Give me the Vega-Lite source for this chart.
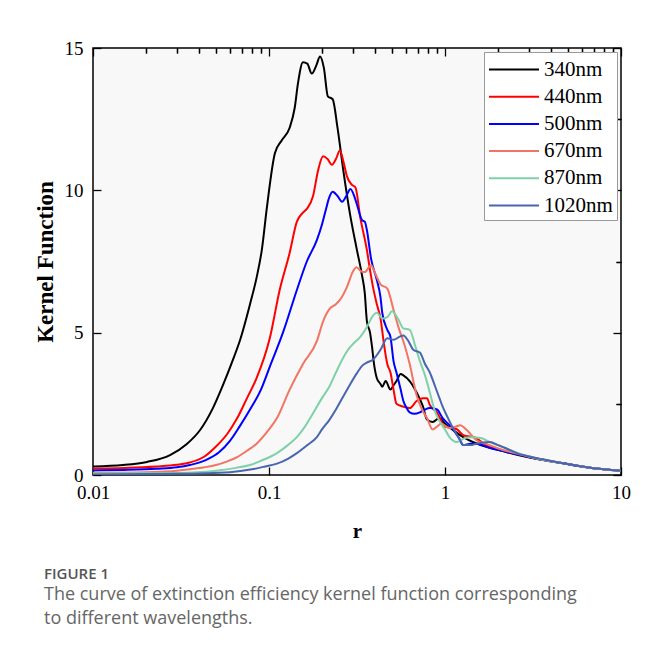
{
"$schema":"https://vega.github.io/schema/vega-lite/v6.json",
"width":528,"height":427,
"autosize":{"type":"none"},
"padding":{"left":93,"top":48,"right":33,"bottom":176},
"background":"white",
"config":{
 "view":{"fill":"#f8f8f8","stroke":"black","strokeWidth":1.5},
 "font":"Liberation Serif",
 "axis":{"grid":false,"domain":false,"tickColor":"black","tickWidth":1.3,"labelFont":"Liberation Serif","labelFontSize":19,"labelColor":"black","titleFont":"Liberation Serif","titleFontSize":19,"titleFontWeight":"bold","titleColor":"black","labelFlush":false,"labelOverlap":false,"labelBound":false}
},
"title":{"text":"FIGURE 1","subtitle":["The curve of extinction efficiency kernel function corresponding","to different wavelengths."],"orient":"bottom","anchor":"start","frame":"bounds","offset":26,"font":"Open Sans","fontSize":15,"fontWeight":600,"color":"#555555","subtitleFont":"Open Sans","subtitleFontSize":18,"subtitleColor":"#666666","subtitleLineHeight":24,"subtitlePadding":4,"dx":10},
"datasets":{"k":[
{"wl":"340nm","r":0.01,"k":0.30},{"wl":"340nm","r":0.0148,"k":0.35},{"wl":"340nm","r":0.0203,"k":0.46},{"wl":"340nm","r":0.0274,"k":0.70},{"wl":"340nm","r":0.034,"k":1.08},{"wl":"340nm","r":0.0406,"k":1.58},{"wl":"340nm","r":0.048,"k":2.35},{"wl":"340nm","r":0.0551,"k":3.2},{"wl":"340nm","r":0.0615,"k":3.95},{"wl":"340nm","r":0.0685,"k":4.74},{"wl":"340nm","r":0.078,"k":6.0},{"wl":"340nm","r":0.0852,"k":6.96},{"wl":"340nm","r":0.091,"k":7.9},{"wl":"340nm","r":0.0973,"k":9.4},{"wl":"340nm","r":0.108,"k":11.3},{"wl":"340nm","r":0.118,"k":11.75},{"wl":"340nm","r":0.131,"k":12.2},{"wl":"340nm","r":0.14,"k":12.9},{"wl":"340nm","r":0.146,"k":13.75},{"wl":"340nm","r":0.156,"k":14.5},{"wl":"340nm","r":0.165,"k":14.45},{"wl":"340nm","r":0.175,"k":14.1},{"wl":"340nm","r":0.186,"k":14.4},{"wl":"340nm","r":0.195,"k":14.7},{"wl":"340nm","r":0.205,"k":14.3},{"wl":"340nm","r":0.216,"k":13.3},{"wl":"340nm","r":0.23,"k":13.2},{"wl":"340nm","r":0.245,"k":12.2},{"wl":"340nm","r":0.263,"k":10.8},{"wl":"340nm","r":0.288,"k":9.2},{"wl":"340nm","r":0.316,"k":7.9},{"wl":"340nm","r":0.338,"k":7.0},{"wl":"340nm","r":0.35,"k":6.4},{"wl":"340nm","r":0.36,"k":5.4},{"wl":"340nm","r":0.375,"k":5.0},{"wl":"340nm","r":0.385,"k":4.5},{"wl":"340nm","r":0.395,"k":3.9},{"wl":"340nm","r":0.41,"k":3.4},{"wl":"340nm","r":0.43,"k":3.2},{"wl":"340nm","r":0.44,"k":3.1},{"wl":"340nm","r":0.46,"k":3.3},{"wl":"340nm","r":0.49,"k":3.0},{"wl":"340nm","r":0.51,"k":3.15},{"wl":"340nm","r":0.53,"k":3.3},{"wl":"340nm","r":0.56,"k":3.55},{"wl":"340nm","r":0.58,"k":3.5},{"wl":"340nm","r":0.63,"k":3.3},{"wl":"340nm","r":0.69,"k":2.9},{"wl":"340nm","r":0.75,"k":2.4},{"wl":"340nm","r":0.79,"k":1.95},{"wl":"340nm","r":0.85,"k":1.86},{"wl":"340nm","r":0.93,"k":2.0},{"wl":"340nm","r":1.0,"k":1.8},{"wl":"340nm","r":1.1,"k":1.6},{"wl":"340nm","r":1.27,"k":1.33},{"wl":"340nm","r":1.45,"k":1.15},{"wl":"340nm","r":1.7,"k":1.0},{"wl":"340nm","r":2.1,"k":0.85},{"wl":"340nm","r":2.6,"k":0.7},{"wl":"340nm","r":3.4,"k":0.55},{"wl":"340nm","r":4.6,"k":0.42},{"wl":"340nm","r":6.0,"k":0.3},{"wl":"340nm","r":8.0,"k":0.2},{"wl":"340nm","r":10,"k":0.15},
{"wl":"440nm","r":0.01,"k":0.23},{"wl":"440nm","r":0.015,"k":0.25},{"wl":"440nm","r":0.023,"k":0.30},{"wl":"440nm","r":0.03,"k":0.36},{"wl":"440nm","r":0.0355,"k":0.44},{"wl":"440nm","r":0.043,"k":0.65},{"wl":"440nm","r":0.05,"k":1.0},{"wl":"440nm","r":0.058,"k":1.45},{"wl":"440nm","r":0.066,"k":2.0},{"wl":"440nm","r":0.075,"k":2.7},{"wl":"440nm","r":0.085,"k":3.4},{"wl":"440nm","r":0.101,"k":4.8},{"wl":"440nm","r":0.115,"k":6.5},{"wl":"440nm","r":0.131,"k":7.8},{"wl":"440nm","r":0.144,"k":8.9},{"wl":"440nm","r":0.155,"k":9.2},{"wl":"440nm","r":0.164,"k":9.35},{"wl":"440nm","r":0.178,"k":9.8},{"wl":"440nm","r":0.19,"k":10.7},{"wl":"440nm","r":0.203,"k":11.2},{"wl":"440nm","r":0.215,"k":11.1},{"wl":"440nm","r":0.228,"k":10.9},{"wl":"440nm","r":0.24,"k":11.1},{"wl":"440nm","r":0.253,"k":11.4},{"wl":"440nm","r":0.265,"k":11.0},{"wl":"440nm","r":0.277,"k":10.5},{"wl":"440nm","r":0.295,"k":10.2},{"wl":"440nm","r":0.31,"k":10.1},{"wl":"440nm","r":0.33,"k":9.05},{"wl":"440nm","r":0.36,"k":7.9},{"wl":"440nm","r":0.375,"k":7.2},{"wl":"440nm","r":0.39,"k":6.6},{"wl":"440nm","r":0.41,"k":6.0},{"wl":"440nm","r":0.43,"k":5.5},{"wl":"440nm","r":0.45,"k":4.6},{"wl":"440nm","r":0.47,"k":3.9},{"wl":"440nm","r":0.49,"k":3.6},{"wl":"440nm","r":0.51,"k":3.0},{"wl":"440nm","r":0.53,"k":2.5},{"wl":"440nm","r":0.58,"k":2.4},{"wl":"440nm","r":0.63,"k":2.35},{"wl":"440nm","r":0.69,"k":2.6},{"wl":"440nm","r":0.75,"k":2.7},{"wl":"440nm","r":0.79,"k":2.7},{"wl":"440nm","r":0.82,"k":2.46},{"wl":"440nm","r":0.9,"k":2.2},{"wl":"440nm","r":1.0,"k":1.7},{"wl":"440nm","r":1.1,"k":1.65},{"wl":"440nm","r":1.17,"k":1.6},{"wl":"440nm","r":1.27,"k":1.4},{"wl":"440nm","r":1.5,"k":1.3},{"wl":"440nm","r":1.7,"k":1.05},{"wl":"440nm","r":2.1,"k":0.88},{"wl":"440nm","r":2.6,"k":0.72},{"wl":"440nm","r":3.4,"k":0.56},{"wl":"440nm","r":4.6,"k":0.42},{"wl":"440nm","r":6.0,"k":0.3},{"wl":"440nm","r":8.0,"k":0.2},{"wl":"440nm","r":10,"k":0.15},
{"wl":"500nm","r":0.01,"k":0.16},{"wl":"500nm","r":0.015,"k":0.18},{"wl":"500nm","r":0.023,"k":0.22},{"wl":"500nm","r":0.03,"k":0.27},{"wl":"500nm","r":0.0355,"k":0.35},{"wl":"500nm","r":0.044,"k":0.53},{"wl":"500nm","r":0.052,"k":0.8},{"wl":"500nm","r":0.06,"k":1.2},{"wl":"500nm","r":0.068,"k":1.7},{"wl":"500nm","r":0.078,"k":2.3},{"wl":"500nm","r":0.09,"k":3.0},{"wl":"500nm","r":0.101,"k":3.8},{"wl":"500nm","r":0.12,"k":5.0},{"wl":"500nm","r":0.144,"k":6.5},{"wl":"500nm","r":0.164,"k":7.5},{"wl":"500nm","r":0.187,"k":8.25},{"wl":"500nm","r":0.2,"k":8.8},{"wl":"500nm","r":0.21,"k":9.3},{"wl":"500nm","r":0.22,"k":9.75},{"wl":"500nm","r":0.23,"k":9.95},{"wl":"500nm","r":0.245,"k":9.8},{"wl":"500nm","r":0.26,"k":9.6},{"wl":"500nm","r":0.275,"k":9.8},{"wl":"500nm","r":0.29,"k":10.05},{"wl":"500nm","r":0.305,"k":9.8},{"wl":"500nm","r":0.316,"k":9.5},{"wl":"500nm","r":0.338,"k":8.95},{"wl":"500nm","r":0.35,"k":8.9},{"wl":"500nm","r":0.36,"k":8.6},{"wl":"500nm","r":0.38,"k":7.6},{"wl":"500nm","r":0.41,"k":6.85},{"wl":"500nm","r":0.43,"k":6.25},{"wl":"500nm","r":0.44,"k":5.7},{"wl":"500nm","r":0.47,"k":5.1},{"wl":"500nm","r":0.49,"k":4.85},{"wl":"500nm","r":0.51,"k":4.0},{"wl":"500nm","r":0.53,"k":3.6},{"wl":"500nm","r":0.56,"k":3.0},{"wl":"500nm","r":0.58,"k":2.6},{"wl":"500nm","r":0.6,"k":2.4},{"wl":"500nm","r":0.63,"k":2.2},{"wl":"500nm","r":0.67,"k":2.15},{"wl":"500nm","r":0.72,"k":2.2},{"wl":"500nm","r":0.77,"k":2.3},{"wl":"500nm","r":0.82,"k":2.35},{"wl":"500nm","r":0.9,"k":2.3},{"wl":"500nm","r":0.97,"k":2.0},{"wl":"500nm","r":1.04,"k":1.8},{"wl":"500nm","r":1.11,"k":1.6},{"wl":"500nm","r":1.2,"k":1.3},{"wl":"500nm","r":1.27,"k":1.05},{"wl":"500nm","r":1.4,"k":1.1},{"wl":"500nm","r":1.5,"k":1.1},{"wl":"500nm","r":1.8,"k":0.95},{"wl":"500nm","r":2.1,"k":0.85},{"wl":"500nm","r":2.6,"k":0.72},{"wl":"500nm","r":3.4,"k":0.56},{"wl":"500nm","r":4.6,"k":0.42},{"wl":"500nm","r":6.0,"k":0.3},{"wl":"500nm","r":8.0,"k":0.2},{"wl":"500nm","r":10,"k":0.15},
{"wl":"670nm","r":0.01,"k":0.08},{"wl":"670nm","r":0.02,"k":0.1},{"wl":"670nm","r":0.03,"k":0.15},{"wl":"670nm","r":0.0355,"k":0.2},{"wl":"670nm","r":0.043,"k":0.27},{"wl":"670nm","r":0.05,"k":0.35},{"wl":"670nm","r":0.058,"k":0.48},{"wl":"670nm","r":0.066,"k":0.63},{"wl":"670nm","r":0.075,"k":0.85},{"wl":"670nm","r":0.085,"k":1.1},{"wl":"670nm","r":0.097,"k":1.5},{"wl":"670nm","r":0.111,"k":2.0},{"wl":"670nm","r":0.131,"k":3.0},{"wl":"670nm","r":0.156,"k":3.9},{"wl":"670nm","r":0.187,"k":4.7},{"wl":"670nm","r":0.203,"k":5.4},{"wl":"670nm","r":0.222,"k":5.85},{"wl":"670nm","r":0.24,"k":6.0},{"wl":"670nm","r":0.253,"k":6.15},{"wl":"670nm","r":0.277,"k":6.6},{"wl":"670nm","r":0.3,"k":7.15},{"wl":"670nm","r":0.314,"k":7.3},{"wl":"670nm","r":0.335,"k":7.15},{"wl":"670nm","r":0.35,"k":7.13},{"wl":"670nm","r":0.38,"k":7.37},{"wl":"670nm","r":0.4,"k":7.1},{"wl":"670nm","r":0.43,"k":6.7},{"wl":"670nm","r":0.47,"k":6.55},{"wl":"670nm","r":0.51,"k":5.8},{"wl":"670nm","r":0.55,"k":5.1},{"wl":"670nm","r":0.58,"k":4.7},{"wl":"670nm","r":0.63,"k":3.9},{"wl":"670nm","r":0.69,"k":2.8},{"wl":"670nm","r":0.74,"k":2.3},{"wl":"670nm","r":0.79,"k":2.0},{"wl":"670nm","r":0.85,"k":1.6},{"wl":"670nm","r":0.9,"k":1.7},{"wl":"670nm","r":0.95,"k":1.8},{"wl":"670nm","r":1.06,"k":1.65},{"wl":"670nm","r":1.15,"k":1.7},{"wl":"670nm","r":1.22,"k":1.75},{"wl":"670nm","r":1.33,"k":1.58},{"wl":"670nm","r":1.5,"k":1.23},{"wl":"670nm","r":1.7,"k":1.1},{"wl":"670nm","r":1.97,"k":0.95},{"wl":"670nm","r":2.3,"k":0.82},{"wl":"670nm","r":2.8,"k":0.7},{"wl":"670nm","r":3.4,"k":0.57},{"wl":"670nm","r":4.6,"k":0.42},{"wl":"670nm","r":6.0,"k":0.3},{"wl":"670nm","r":8.0,"k":0.2},{"wl":"670nm","r":10,"k":0.15},
{"wl":"870nm","r":0.01,"k":0.05},{"wl":"870nm","r":0.03,"k":0.07},{"wl":"870nm","r":0.05,"k":0.15},{"wl":"870nm","r":0.065,"k":0.25},{"wl":"870nm","r":0.078,"k":0.35},{"wl":"870nm","r":0.09,"k":0.5},{"wl":"870nm","r":0.111,"k":0.77},{"wl":"870nm","r":0.128,"k":1.05},{"wl":"870nm","r":0.144,"k":1.33},{"wl":"870nm","r":0.16,"k":1.7},{"wl":"870nm","r":0.178,"k":2.17},{"wl":"870nm","r":0.2,"k":2.7},{"wl":"870nm","r":0.22,"k":3.1},{"wl":"870nm","r":0.24,"k":3.6},{"wl":"870nm","r":0.263,"k":4.1},{"wl":"870nm","r":0.285,"k":4.45},{"wl":"870nm","r":0.3,"k":4.6},{"wl":"870nm","r":0.33,"k":4.85},{"wl":"870nm","r":0.36,"k":5.2},{"wl":"870nm","r":0.39,"k":5.6},{"wl":"870nm","r":0.41,"k":5.7},{"wl":"870nm","r":0.44,"k":5.5},{"wl":"870nm","r":0.47,"k":5.55},{"wl":"870nm","r":0.5,"k":5.75},{"wl":"870nm","r":0.54,"k":5.5},{"wl":"870nm","r":0.58,"k":5.15},{"wl":"870nm","r":0.63,"k":5.1},{"wl":"870nm","r":0.68,"k":4.5},{"wl":"870nm","r":0.72,"k":4.0},{"wl":"870nm","r":0.77,"k":3.5},{"wl":"870nm","r":0.82,"k":2.9},{"wl":"870nm","r":0.87,"k":2.3},{"wl":"870nm","r":0.93,"k":1.9},{"wl":"870nm","r":1.0,"k":1.6},{"wl":"870nm","r":1.06,"k":1.33},{"wl":"870nm","r":1.17,"k":1.16},{"wl":"870nm","r":1.3,"k":1.3},{"wl":"870nm","r":1.4,"k":1.33},{"wl":"870nm","r":1.6,"k":1.3},{"wl":"870nm","r":1.8,"k":1.15},{"wl":"870nm","r":2.0,"k":1.05},{"wl":"870nm","r":2.4,"k":0.85},{"wl":"870nm","r":2.8,"k":0.7},{"wl":"870nm","r":3.4,"k":0.57},{"wl":"870nm","r":4.6,"k":0.42},{"wl":"870nm","r":6.0,"k":0.3},{"wl":"870nm","r":8.0,"k":0.2},{"wl":"870nm","r":10,"k":0.15},
{"wl":"1020nm","r":0.01,"k":0.02},{"wl":"1020nm","r":0.03,"k":0.04},{"wl":"1020nm","r":0.06,"k":0.1},{"wl":"1020nm","r":0.08,"k":0.2},{"wl":"1020nm","r":0.095,"k":0.3},{"wl":"1020nm","r":0.111,"k":0.4},{"wl":"1020nm","r":0.128,"k":0.57},{"wl":"1020nm","r":0.144,"k":0.77},{"wl":"1020nm","r":0.165,"k":1.05},{"wl":"1020nm","r":0.187,"k":1.33},{"wl":"1020nm","r":0.2,"k":1.6},{"wl":"1020nm","r":0.22,"k":1.93},{"wl":"1020nm","r":0.24,"k":2.3},{"wl":"1020nm","r":0.263,"k":2.74},{"wl":"1020nm","r":0.29,"k":3.2},{"wl":"1020nm","r":0.316,"k":3.58},{"wl":"1020nm","r":0.34,"k":3.85},{"wl":"1020nm","r":0.36,"k":3.95},{"wl":"1020nm","r":0.39,"k":4.05},{"wl":"1020nm","r":0.43,"k":4.4},{"wl":"1020nm","r":0.47,"k":4.8},{"wl":"1020nm","r":0.51,"k":4.75},{"wl":"1020nm","r":0.55,"k":4.85},{"wl":"1020nm","r":0.58,"k":4.9},{"wl":"1020nm","r":0.62,"k":4.7},{"wl":"1020nm","r":0.66,"k":4.4},{"wl":"1020nm","r":0.72,"k":4.3},{"wl":"1020nm","r":0.77,"k":3.9},{"wl":"1020nm","r":0.82,"k":3.6},{"wl":"1020nm","r":0.88,"k":3.1},{"wl":"1020nm","r":0.93,"k":2.7},{"wl":"1020nm","r":0.97,"k":2.4},{"wl":"1020nm","r":1.04,"k":2.0},{"wl":"1020nm","r":1.11,"k":1.65},{"wl":"1020nm","r":1.2,"k":1.3},{"wl":"1020nm","r":1.27,"k":1.05},{"wl":"1020nm","r":1.4,"k":1.05},{"wl":"1020nm","r":1.5,"k":1.1},{"wl":"1020nm","r":1.8,"k":1.16},{"wl":"1020nm","r":2.0,"k":1.05},{"wl":"1020nm","r":2.2,"k":0.95},{"wl":"1020nm","r":2.6,"k":0.75},{"wl":"1020nm","r":3.1,"k":0.63},{"wl":"1020nm","r":3.6,"k":0.55},{"wl":"1020nm","r":4.6,"k":0.42},{"wl":"1020nm","r":6.0,"k":0.3},{"wl":"1020nm","r":8.0,"k":0.2},{"wl":"1020nm","r":10,"k":0.15}
]},
"data":{"name":"k"},
"layer":[
 {"mark":{"type":"line","strokeWidth":2,"interpolate":"monotone","clip":true},
  "encoding":{
   "x":{"field":"r","type":"quantitative","scale":{"type":"log","domain":[0.01,10],"nice":false},"axis":{"values":[0.01,0.1,1,10],"format":"~g","tickSize":-8,"labelPadding":16,"title":"r","titleFontSize":21,"titlePadding":18}},
   "y":{"field":"k","type":"quantitative","scale":{"domain":[0,15],"nice":false,"zero":true},"axis":{"values":[0,5,10,15],"tickSize":-8,"labelPadding":18,"title":"Kernel Function","titleFontSize":23,"titlePadding":7}},
   "color":{"field":"wl","type":"nominal","sort":["340nm","440nm","500nm","670nm","870nm","1020nm"],"scale":{"domain":["340nm","440nm","500nm","670nm","870nm","1020nm"],"range":["#000000","#ff0000","#0000ff","#f27462","#7fd1a9","#4866b0"]},
    "legend":{"title":null,"orient":"top-right","offset":4,"fillColor":"white","strokeColor":"#999999","padding":4,"symbolType":"M-1,0H3","symbolSize":625,"symbolStrokeWidth":2,"labelFont":"Liberation Serif","labelFontSize":21,"labelColor":"black","labelOffset":29,"rowPadding":3.2,"cornerRadius":0}},
   "order":{"field":"wl","type":"nominal"}
  }},
 {"mark":{"type":"point","opacity":0},
  "encoding":{
   "x":{"field":"r","type":"quantitative","axis":{"values":[0.02,0.03,0.04,0.05,0.06,0.07,0.08,0.09,0.2,0.3,0.4,0.5,0.6,0.7,0.8,0.9,2,3,4,5,6,7,8,9],"labels":false,"tickSize":-5,"title":null}},
   "y":{"field":"k","type":"quantitative","axis":{"values":[2.5,7.5,12.5],"labels":false,"tickSize":-5,"title":null}}
  }},
 {"mark":{"type":"point","opacity":0},
  "encoding":{
   "x":{"field":"r","type":"quantitative","axis":{"orient":"top","values":[0.01,0.1,1,10],"labels":false,"tickSize":-8,"title":null}},
   "y":{"field":"k","type":"quantitative","axis":{"orient":"right","values":[0,5,10,15],"labels":false,"tickSize":-8,"title":null}}
  }},
 {"mark":{"type":"point","opacity":0},
  "encoding":{
   "x":{"field":"r","type":"quantitative","axis":{"orient":"top","values":[0.02,0.03,0.04,0.05,0.06,0.07,0.08,0.09,0.2,0.3,0.4,0.5,0.6,0.7,0.8,0.9,2,3,4,5,6,7,8,9],"labels":false,"tickSize":-5,"title":null}},
   "y":{"field":"k","type":"quantitative","axis":{"orient":"right","values":[2.5,7.5,12.5],"labels":false,"tickSize":-5,"title":null}}
  }}
],
"resolve":{"axis":{"x":"independent","y":"independent"}}
}
